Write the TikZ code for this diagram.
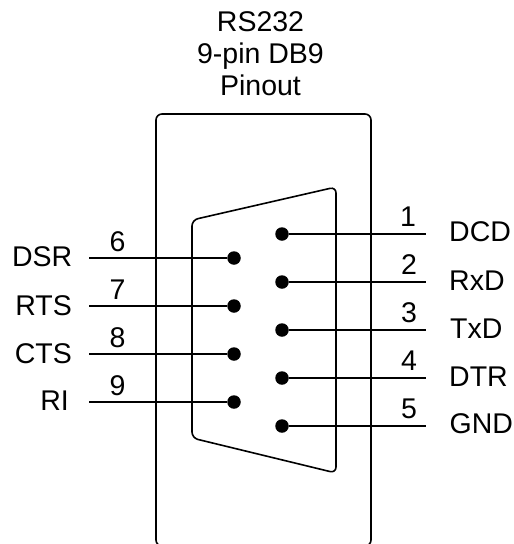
\documentclass[tikz,border=0pt]{standalone}
\usepackage{fontspec}
\setmainfont{Liberation Sans}
\tikzset{
    pin/.style={circle, fill=black, inner sep=0pt, minimum size=13.5pt},
    wire/.style={line width=1.5pt},
    shell/.style={line width=1.6pt, rounded corners=6pt},
    lbl/.style={inner sep=0pt, anchor=base, font=\fontsize{28.5}{28.5}\selectfont}
}
\begin{document}
\begin{tikzpicture}[x=1pt, y=-1pt]
    \useasboundingbox (0, 0) rectangle (514, 544);
    \node[lbl] (title1) at (260.5, 31.7) {RS232};
    \node[lbl] (title2) at (260.5, 63.5) {9-pin DB9};
    \node[lbl] (title3) at (260.5, 95) {Pinout};
    % housing runs off the page at the bottom
    \draw[shell] (156, 546) -- (156, 114) -- (371, 114) -- (371, 546) -- cycle;
    \draw[shell] (192, 220) -- (336, 187) -- (336, 473) -- (192, 438) -- cycle;
    % right row
    \node[pin] (pin1) at (282, 234) {};
    \node[pin] (pin2) at (282, 282) {};
    \node[pin] (pin3) at (282, 330) {};
    \node[pin] (pin4) at (282, 378) {};
    \node[pin] (pin5) at (282, 426) {};
    \coordinate (end1) at (426, 234);
    \coordinate (end2) at (426, 282);
    \coordinate (end3) at (426, 330);
    \coordinate (end4) at (426, 378);
    \coordinate (end5) at (426, 426);
    \draw[wire] (pin1) -- (end1);
    \draw[wire] (pin2) -- (end2);
    \draw[wire] (pin3) -- (end3);
    \draw[wire] (pin4) -- (end4);
    \draw[wire] (pin5) -- (end5);
    \node[lbl] (num1) at (408, 226) {1};
    \node[lbl] (num2) at (409, 274) {2};
    \node[lbl] (num3) at (409, 322) {3};
    \node[lbl] (num4) at (409, 370) {4};
    \node[lbl] (num5) at (409, 418) {5};
    \node[lbl, anchor=base west] (sig1) at (449, 241.7) {DCD};
    \node[lbl, anchor=base west] (sig2) at (449, 290) {RxD};
    \node[lbl, anchor=base west] (sig3) at (450, 338) {TxD};
    \node[lbl, anchor=base west] (sig4) at (449, 386) {DTR};
    \node[lbl, anchor=base west] (sig5) at (449.5, 433) {GND};
    % left row
    \node[pin] (pin6) at (234, 258) {};
    \node[pin] (pin7) at (234, 306) {};
    \node[pin] (pin8) at (234, 354) {};
    \node[pin] (pin9) at (234, 402) {};
    \coordinate (end6) at (89, 258);
    \coordinate (end7) at (89, 306);
    \coordinate (end8) at (89, 354);
    \coordinate (end9) at (89, 402);
    \draw[wire] (pin6) -- (end6);
    \draw[wire] (pin7) -- (end7);
    \draw[wire] (pin8) -- (end8);
    \draw[wire] (pin9) -- (end9);
    \node[lbl] (num6) at (117.5, 251.7) {6};
    \node[lbl] (num7) at (117.5, 299) {7};
    \node[lbl] (num8) at (117.5, 347) {8};
    \node[lbl] (num9) at (117.5, 395) {9};
    \node[lbl, anchor=base east] (sig6) at (72.5, 266.7) {DSR};
    \node[lbl, anchor=base east] (sig7) at (72, 315) {RTS};
    \node[lbl, anchor=base east] (sig8) at (72, 363) {CTS};
    \node[lbl, anchor=base east] (sig9) at (69, 410) {RI};
\end{tikzpicture}
\end{document}
